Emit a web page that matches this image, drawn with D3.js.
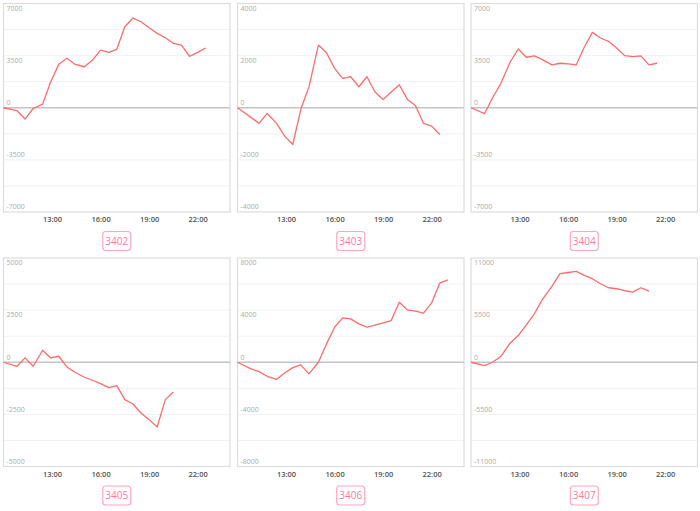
<!DOCTYPE html>
<html>
<head>
<meta charset="utf-8">
<script src="https://cdn.jsdelivr.net/npm/d3@7"></script>
<style>
  html, body { margin: 0; padding: 0; background: #fff; }
  svg { display: block; font-family: "Open Sans", "Noto Sans", sans-serif; }
</style>
</head>
<body>
<svg id="chart" width="700" height="511"></svg>
<script>
// ---- data ----
const panelNames = ["3402", "3403", "3404", "3405", "3406", "3407"];
const times = ["10:00","10:50","11:20","11:50","12:25","12:55","13:25","13:55","14:25","15:00",
               "15:30","16:00","16:30","17:00","17:30","18:00","18:30","19:00","19:30","20:00",
               "20:30","21:00","21:30","22:00","22:30","23:00"];
const xTickLabels = ["13:00", "16:00", "19:00", "22:00"];
const xDomainLabels = ["10:00", "00:00"];

const values3402 = [0, -200, -760, -50, 245, 1746, 2914, 3317, 2914, 2753, 3203, 3875, 3720, 3922, 5440, 6024, 5775, 5372, 4996, 4700, 4325, 4210, 3450, 3720, 4009];
const values3403 = [0, -370, -600, -218, -600, -1090, -1410, -50, 800, 2406, 2112, 1510, 1126, 1190, 806, 1190, 602, 320, 602, 883, 320, 90, -602, -704, -1024];
const values3404 = [0, -400, 671, 1606, 3055, 3947, 3390, 3479, 3234, 2877, 2988, 2944, 2877, 4059, 5062, 4683, 4460, 4014, 3501, 3434, 3479, 2877, 2988];
const values3405 = [0, -192, 208, -192, 576, 208, 288, -224, -480, -720, -864, -1024, -1216, -1120, -1792, -2000, -2432, -2752, -3104, -1792, -1424];
const values3406 = [0, -512, -717, -1075, -1306, -819, -410, -205, -896, 0, 1408, 2688, 3405, 3328, 2944, 2688, 2840, 3020, 3200, 4608, 4019, 3917, 3763, 4557, 6067, 6323];
const values3407 = [0, -353, 0, 600, 2010, 2820, 3950, 5113, 6630, 8004, 9344, 9470, 9590, 9168, 8815, 8286, 7863, 7757, 7546, 7405, 7863, 7510];
const seriesValues = [values3402, values3403, values3404, values3405, values3406, values3407];

const yTicks3402 = [7000, 3500, 0, -3500, -7000];
const yTicks3403 = [4000, 2000, 0, -2000, -4000];
const yTicks3404 = [7000, 3500, 0, -3500, -7000];
const yTicks3405 = [5000, 2500, 0, -2500, -5000];
const yTicks3406 = [8000, 4000, 0, -4000, -8000];
const yTicks3407 = [11000, 5500, 0, -5500, -11000];
const yTickSets = [yTicks3402, yTicks3403, yTicks3404, yTicks3405, yTicks3406, yTicks3407];

// ---- layout ----
const colX = [3.5, 237.5, 471];
const rowY = [3.5, 258];
const pw = 226.5, ph = 208.5;

const parseT = d3.timeParse("%H:%M");
const t0 = parseT(xDomainLabels[0]);
const t1 = d3.timeDay.offset(parseT(xDomainLabels[1]), 1);

const svg = d3.select("#chart");

seriesValues.forEach((vals, i) => {
  const col = i % 3, row = Math.floor(i / 3);
  const g = svg.append("g").attr("transform", `translate(${colX[col]},${rowY[row]})`);
  const ticks = yTickSets[i];
  const yMax = d3.max(ticks), yMin = d3.min(ticks);

  const x = d3.scaleTime().domain([t0, t1]).range([0, pw]);
  const y = d3.scaleLinear().domain([yMin, yMax]).range([ph, 0]);

  // grid lines (ticks + midpoints)
  const grid = [];
  ticks.forEach((v, k) => {
    grid.push(v);
    if (k < ticks.length - 1) grid.push((v + ticks[k + 1]) / 2);
  });
  g.selectAll("line.grid").data(grid.filter(v => v !== 0 && v !== yMax && v !== yMin))
    .enter().append("line")
    .attr("x1", 0).attr("x2", pw)
    .attr("y1", d => y(d)).attr("y2", d => y(d))
    .attr("stroke", "#f1f1f1").attr("stroke-width", 1);

  // frame
  g.append("rect").attr("x", 0).attr("y", 0).attr("width", pw).attr("height", ph)
    .attr("fill", "none").attr("stroke", "#dcdcdc").attr("stroke-width", 1.2);

  // zero line
  g.append("line").attr("x1", 0).attr("x2", pw)
    .attr("y1", y(0)).attr("y2", y(0))
    .attr("stroke", "#c4c4c4").attr("stroke-width", 1.6);

  // y labels (inside, left)
  const yAxis = d3.axisRight(y).tickValues(ticks).tickSize(0).tickPadding(0)
    .tickFormat(d => String(d));
  const ya = g.append("g").attr("transform", "translate(3,0)").call(yAxis);
  ya.select(".domain").remove();
  ya.selectAll("text")
    .attr("fill", "#aaaaaa").attr("font-size", 7)
    .attr("font-family", "'Open Sans', sans-serif")
    .attr("dy", d => d > 0 ? "0.95em" : "-0.45em");

  // x labels
  const xAxis = d3.axisBottom(x).tickValues(xTickLabels.map(parseT)).tickSize(0).tickPadding(5)
    .tickFormat(d3.timeFormat("%H:%M"));
  const xa = g.append("g").attr("transform", `translate(0,${ph})`).call(xAxis);
  xa.select(".domain").remove();
  xa.selectAll("text")
    .attr("fill", "#555").attr("font-size", 7.5).attr("font-weight", 600)
    .attr("font-family", "'Open Sans', sans-serif");

  // line
  const pts = vals.map((v, k) => [parseT(times[k]), v]);
  g.append("path").datum(pts)
    .attr("fill", "none").attr("stroke", "#ff6b6b").attr("stroke-width", 1.3)
    .attr("stroke-linejoin", "round")
    .attr("d", d3.line().x(d => x(d[0])).y(d => y(d[1])));

  // name box
  const bw = 28, bh = 19;
  const bx = pw / 2 - bw / 2, by = ph + 19.5;
  g.append("rect").attr("x", bx).attr("y", by).attr("width", bw).attr("height", bh)
    .attr("rx", 3).attr("fill", "#fff").attr("stroke", "#ffa6bd").attr("stroke-width", 1.2);
  g.append("text").attr("x", pw / 2).attr("y", by + bh / 2).attr("dy", "0.36em")
    .attr("text-anchor", "middle").attr("fill", "#ff7a9c").attr("font-size", 10)
    .attr("font-family", "'Open Sans', sans-serif")
    .text(panelNames[i]);
});
</script>
</body>
</html>
